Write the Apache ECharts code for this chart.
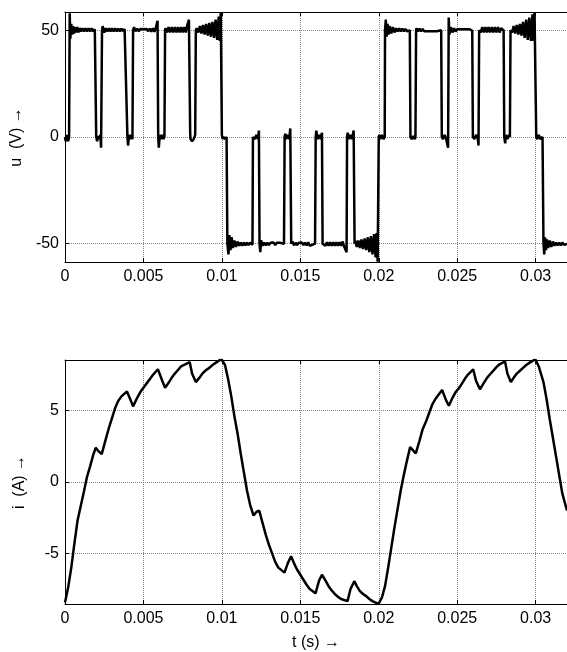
<!DOCTYPE html>
<html>
<head>
<meta charset="utf-8">
<script src="https://cdn.jsdelivr.net/npm/echarts@6/dist/echarts.min.js"></script>
<style>
html,body{margin:0;padding:0;background:#fff;}
#chart{width:567px;height:652px;}
</style>
</head>
<body>
<div id="chart"></div>
<script>
// ---- data ----
const timeTicks = [0, 0.005, 0.01, 0.015, 0.02, 0.025, 0.03];
const voltageTicks = [-50, 0, 50];
const currentTicks = [-5, 0, 5];

// u (V) versus t (s): PWM voltage with ringing
const voltagePoints = [
[0,0],[0.00005,-2],[0.00012,1],[0.0002,-2],[0.00026,0],
[0.0003,58],[0.00034,46],[0.0004,53],[0.00046,48],[0.00052,52],[0.00058,48.5],[0.00064,51.5],[0.0007,49],[0.00078,51.5],[0.00086,49],[0.00094,51],[0.001,49.5],[0.0011,51],[0.0012,49.5],[0.0013,51],[0.0014,49.5],[0.0015,51],[0.0016,49.5],[0.0017,51],[0.0018,49.5],[0.0019,50.5],[0.00196,50],
[0.00199,0],[0.00205,-2],[0.0021,0.5],[0.00218,-1],[0.00226,1],[0.0023,-5],
[0.00236,50],[0.0024,52],[0.0025,49],[0.0026,51],[0.0027,49.5],[0.0028,51],[0.0029,49.5],[0.003,51],[0.0031,49.5],[0.0032,51],[0.0033,49.5],[0.0034,50.8],[0.0035,49.5],[0.0036,50.8],[0.0037,49.6],[0.0038,50.6],[0.0039,49.8],
[0.00398,0],[0.00402,-4],[0.00408,1],[0.00416,-1],[0.00424,1],[0.0043,-1],
[0.00434,50],[0.0044,51.5],[0.0045,49.5],[0.0046,50.8],[0.0047,49.6],[0.0048,50.6],[0.0049,49.8],[0.005,50.5],[0.0051,49.6],[0.0052,50.6],[0.0053,49.6],[0.0054,50.8],[0.0055,49.4],[0.0056,51],[0.0057,49.3],[0.0058,51.5],[0.0059,54.5],
[0.00594,0],[0.00598,-5],[0.00604,1],[0.00612,-1],[0.0062,1],[0.00628,-1],[0.00634,0.5],
[0.00638,50],[0.0064,51],[0.0065,49],[0.0066,51.5],[0.0067,49],[0.0068,51.5],[0.0069,49],[0.007,51.5],[0.0071,49],[0.0072,51.5],[0.0073,49],[0.0074,51.5],[0.0075,49],[0.0076,51.5],[0.0077,49],[0.0078,52.5],[0.0079,55],
[0.00798,2],[0.008,-1],[0.0081,-2],[0.0082,-1],[0.0083,1],
[0.00834,50],[0.0084,51],[0.0085,49],[0.0086,52],[0.0087,48.5],[0.0088,52.5],[0.0089,48],[0.009,53],[0.0091,47.5],[0.0092,53.5],[0.0093,47],[0.0094,54],[0.0095,46.5],[0.0096,55],[0.0097,45.5],[0.0098,56.5],[0.00987,45],[0.00993,58.5],
[0.01,1],[0.01005,-1],[0.0101,0],[0.0102,-1],[0.0103,0],
[0.01035,-50],[0.01042,-55],[0.01048,-46],[0.01055,-53],[0.01062,-47],[0.0107,-52],[0.0108,-48.5],[0.0109,-51.5],[0.011,-49],[0.0111,-51],[0.0112,-49.5],[0.0113,-51],[0.0114,-49.5],[0.0115,-50.8],[0.0116,-49.5],[0.0117,-50.6],[0.0118,-49.6],[0.01195,-50.5],
[0.01198,0],[0.0121,-1],[0.0122,1],[0.0123,-1],[0.01236,3],
[0.0124,-50],[0.01245,-54],[0.0125,-48.5],[0.0126,-51],[0.0127,-49.5],[0.0128,-50.8],[0.0129,-49.5],[0.013,-50.6],[0.0131,-49.6],[0.0132,-50.5],[0.0133,-49.5],[0.0134,-50.6],[0.0135,-49.6],[0.0136,-50.5],[0.0137,-49.6],[0.0138,-50.4],[0.01396,-50],
[0.014,0],[0.01404,1.5],[0.0141,-1],[0.0142,1],[0.0143,-1],[0.01436,4],
[0.01442,-50],[0.0145,-49],[0.0146,-50.8],[0.0147,-49.6],[0.0148,-50.6],[0.0149,-49.6],[0.015,-50.5],[0.0151,-49.5],[0.0152,-50.6],[0.0153,-49.5],[0.0154,-50.8],[0.0155,-49.4],[0.0156,-51],[0.01594,-50],
[0.01598,0],[0.01602,3],[0.0161,-1],[0.0162,1],[0.0163,-1],[0.01638,2],
[0.01642,-50],[0.0165,-49.3],[0.0166,-51],[0.0167,-49.3],[0.0168,-51],[0.0169,-49.3],[0.017,-51],[0.0171,-49.3],[0.0172,-51],[0.0173,-49.3],[0.0174,-51],[0.0175,-49.3],[0.0176,-51],[0.0177,-49],[0.0178,-51.5],[0.01795,-54],
[0.01798,0],[0.01802,2],[0.0181,-1],[0.0182,1],[0.0183,-1],[0.0184,3],
[0.01846,-50],[0.0185,-48.5],[0.0186,-51.5],[0.0187,-48.5],[0.0188,-52],[0.0189,-48],[0.019,-52.5],[0.0191,-47.5],[0.0192,-53],[0.0193,-47],[0.0194,-54],[0.0195,-46.5],[0.0196,-55],[0.0197,-45.5],[0.0198,-56.5],[0.01987,-45],[0.01993,-58.5],
[0.02,0],[0.02005,1],[0.0201,-1],[0.0202,1],[0.0203,-1],[0.02038,0],
[0.0204,50],[0.02045,55],[0.0205,47],[0.02056,53],[0.02062,48],[0.0207,52],[0.0208,48.5],[0.0209,51.5],[0.021,49],[0.0211,51],[0.0212,49.5],[0.0213,51],[0.0214,49.5],[0.0215,50.8],[0.0216,49.5],[0.0217,50.6],[0.0218,49.6],[0.02198,50],
[0.02202,0],[0.0221,-1],[0.0222,0.5],[0.0223,-1],[0.02234,0],
[0.02238,50],[0.0224,51],[0.0225,49.5],[0.0226,50.8],[0.0227,49.5],[0.0228,50.6],[0.0229,49.6],[0.023,50.5],[0.0231,49.6],[0.0232,50.5],[0.0233,49.6],[0.0234,50.5],[0.0235,49.6],[0.0236,50.5],[0.0237,49.6],[0.0238,50.4],[0.02398,50],
[0.02402,0],[0.0241,-1],[0.0242,1],[0.0243,-1],[0.02442,-5],
[0.02446,56],[0.0245,48],[0.0246,51.5],[0.0247,49],[0.0248,51],[0.0249,49.5],[0.025,50.5],[0.0251,49.6],[0.0252,50.5],[0.0253,49.6],[0.0254,50.5],[0.0255,49.6],[0.0256,50.5],[0.0257,49.6],[0.0258,50.5],[0.02596,49.8],
[0.026,0],[0.0261,-1],[0.0262,1],[0.02632,-1],[0.02636,-4],
[0.0264,50],[0.0265,49],[0.0266,51.5],[0.0267,49],[0.0268,51.5],[0.0269,49],[0.027,51.5],[0.0271,49],[0.0272,51.5],[0.0273,49],[0.0274,51.5],[0.0275,49],[0.0276,51.5],[0.0277,49],[0.0278,51],[0.02796,50],
[0.028,0],[0.02806,-3],[0.0281,1],[0.0282,-1],[0.0283,1],[0.02836,0],
[0.0284,50],[0.0285,49],[0.0286,52],[0.0287,48.5],[0.0288,52.5],[0.0289,48],[0.029,53],[0.0291,47.5],[0.0292,54],[0.0293,46.5],[0.0294,55],[0.0295,45.5],[0.0296,56],[0.0297,45],[0.0298,57.5],[0.02987,45],[0.02993,58.5],
[0.03004,0],[0.0301,-1],[0.0302,1],[0.0303,-1],[0.03044,0],
[0.0305,-50],[0.03055,-55],[0.0306,-47],[0.03066,-53],[0.03072,-48],[0.0308,-52],[0.0309,-48.5],[0.031,-51.5],[0.0311,-49],[0.0312,-51],[0.0313,-49.5],[0.0314,-50.8],[0.0315,-49.5],[0.0316,-50.8],[0.0317,-49.5],[0.0318,-50.5],[0.0319,-49.6],[0.032,-50.2]
];

// i (A) versus t (s): load current
const currentPoints = [
[0,-8.45],[0.0002,-7.4],[0.0004,-6.0],[0.0006,-4.3],[0.0008,-2.7],[0.001,-1.7],[0.0012,-0.7],[0.0014,0.35],[0.0016,1.1],[0.0018,1.9],[0.00196,2.4],[0.0021,2.2],[0.00234,1.95],
[0.0026,3.0],[0.0028,3.8],[0.003,4.5],[0.0032,5.2],[0.0034,5.7],[0.0036,6.0],[0.00395,6.35],[0.0042,5.7],[0.00434,5.3],
[0.0046,5.9],[0.0048,6.3],[0.005,6.6],[0.0052,6.9],[0.0054,7.2],[0.0056,7.5],[0.00592,7.9],[0.0062,7.1],[0.00638,6.6],
[0.0066,6.95],[0.0068,7.3],[0.007,7.6],[0.0072,7.85],[0.0074,8.1],[0.00795,8.4],[0.0081,7.6],[0.00834,7.0],
[0.0086,7.35],[0.0088,7.65],[0.009,7.85],[0.0092,8.0],[0.0094,8.2],[0.0096,8.35],[0.0098,8.5],[0.00998,8.6],
[0.0102,8.2],[0.0104,7.2],[0.0106,6.0],[0.0108,4.6],[0.011,3.4],[0.0112,2.0],[0.0114,0.7],[0.0116,-0.6],[0.0118,-1.6],[0.01202,-2.35],[0.0122,-2.1],[0.01238,-2.0],
[0.0126,-2.9],[0.0128,-3.7],[0.013,-4.4],[0.0132,-5.0],[0.0134,-5.6],[0.0136,-6.0],[0.01399,-6.35],[0.0142,-5.7],[0.01441,-5.2],
[0.0146,-5.7],[0.0148,-6.15],[0.015,-6.5],[0.0152,-6.85],[0.0154,-7.2],[0.0156,-7.5],[0.01597,-7.8],[0.0162,-6.9],[0.01638,-6.5],
[0.0166,-6.9],[0.0168,-7.3],[0.017,-7.6],[0.0172,-7.85],[0.0174,-8.05],[0.0176,-8.2],[0.01801,-8.35],[0.0182,-7.5],[0.01844,-6.95],
[0.0186,-7.3],[0.0188,-7.65],[0.019,-7.85],[0.0192,-8.0],[0.0194,-8.2],[0.0196,-8.35],[0.01998,-8.55],
[0.0202,-8.1],[0.0204,-7.3],[0.0206,-6.0],[0.0208,-4.6],[0.021,-3.2],[0.0212,-1.9],[0.0214,-0.6],[0.0216,0.5],[0.0218,1.5],[0.022,2.45],[0.0222,2.2],[0.02236,2.0],
[0.0226,2.9],[0.0228,3.7],[0.023,4.2],[0.0232,4.8],[0.0234,5.4],[0.0236,5.8],[0.0238,6.1],[0.02404,6.45],[0.0243,5.7],[0.02447,5.35],
[0.0247,5.9],[0.0249,6.3],[0.0251,6.55],[0.0253,6.9],[0.0255,7.25],[0.0257,7.55],[0.02602,7.9],[0.0262,7.1],[0.02645,6.5],
[0.0267,6.95],[0.0269,7.3],[0.0271,7.55],[0.0273,7.8],[0.0275,8.05],[0.0277,8.25],[0.02805,8.45],[0.0282,7.6],[0.02842,7.0],
[0.0286,7.3],[0.0288,7.6],[0.029,7.8],[0.0292,8.0],[0.0294,8.2],[0.0296,8.35],[0.02998,8.6],
[0.0302,8.1],[0.0305,7.0],[0.0307,5.8],[0.0309,4.4],[0.0311,3.1],[0.0313,1.8],[0.0315,0.5],[0.0317,-0.8],[0.0319,-1.6],[0.032,-2.0]
];

const tMax = 0.032;
const uRange = 58.6;
const iRange = 8.55;

// ---- chart ----
const FONT = 'Liberation Sans, Arial, sans-serif';
const chart = echarts.init(document.getElementById('chart'), null, {renderer: 'canvas'});

function bottomX(gridIndex, withName) {
  return {
    type: 'value', gridIndex: gridIndex, position: 'bottom',
    min: 0, max: tMax, interval: 0.005,
    name: withName ? 't (s) \u2192' : '', nameLocation: 'middle', nameGap: 31,
    nameTextStyle: {color: '#000', fontSize: 16, fontFamily: FONT},
    axisLine: {show: true, onZero: false, lineStyle: {color: '#000', width: 1}},
    axisTick: {show: true, inside: true, length: 4, lineStyle: {color: '#000'}},
    axisLabel: {show: true, color: '#000', fontSize: 16, fontFamily: FONT, margin: 7, showMaxLabel: false},
    splitLine: {show: true, lineStyle: {color: '#888', type: [1, 1], width: 1}}
  };
}
function topX(gridIndex) {
  return {
    type: 'value', gridIndex: gridIndex, position: 'top',
    min: 0, max: tMax, interval: 0.005,
    axisLine: {show: true, onZero: false, lineStyle: {color: '#000', width: 1}},
    axisTick: {show: true, inside: true, length: 4, lineStyle: {color: '#000'}},
    axisLabel: {show: false}, splitLine: {show: false}
  };
}
function leftY(gridIndex, range, split, name) {
  return {
    type: 'value', gridIndex: gridIndex, position: 'left',
    min: -range, max: range, splitNumber: split,
    name: name, nameLocation: 'middle', nameGap: 37, nameRotate: 90,
    nameTextStyle: {color: '#000', fontSize: 16, fontFamily: FONT},
    axisLine: {show: true, onZero: false, lineStyle: {color: '#000', width: 1}},
    axisTick: {show: true, inside: true, length: 4, lineStyle: {color: '#000'}},
    axisLabel: {show: true, color: '#000', fontSize: 16, fontFamily: FONT, margin: 6, showMinLabel: false, showMaxLabel: false},
    splitLine: {show: true, lineStyle: {color: '#888', type: [1, 1], width: 1}}
  };
}

const option = {
  animation: false,
  backgroundColor: '#fff',
  grid: [
    {left: 65, right: -1, top: 12, height: 250, show: false},
    {left: 65, right: -1, top: 360, height: 249, show: false}
  ],
  xAxis: [bottomX(0, false), bottomX(1, true), topX(0), topX(1)],
  yAxis: [
    leftY(0, uRange, 2, 'u  (V) \u2192'),
    leftY(1, iRange, 3, 'i  (A) \u2192')
  ],
  series: [
    {type: 'line', xAxisIndex: 0, yAxisIndex: 0, data: voltagePoints, showSymbol: false,
     lineStyle: {color: '#000', width: 2.5}, clip: true},
    {type: 'line', xAxisIndex: 1, yAxisIndex: 1, data: currentPoints, showSymbol: false,
     lineStyle: {color: '#000', width: 2.5}, clip: true}
  ]
};
chart.setOption(option);
</script>
</body>
</html>
